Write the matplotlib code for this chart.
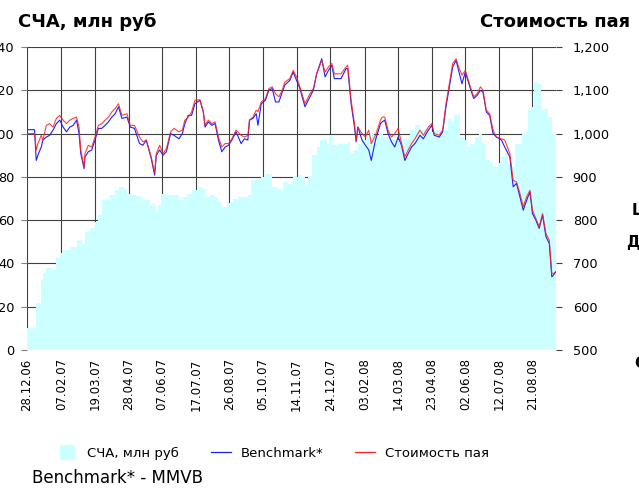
import numpy as np
import pandas as pd
import matplotlib
matplotlib.use("Agg")
import matplotlib.pyplot as plt
from matplotlib.lines import Line2D

# %% data (days since 28.12.06)
start = pd.Timestamp("2006-12-28")

line_days = [0, 9, 11, 13, 17, 19, 23, 27, 31, 35, 39, 43, 47, 51, 55, 59, 62, 64, 68, 69,
             73, 77, 81, 85, 89, 93, 97, 101, 105, 109, 113, 119, 123, 128, 134, 138, 142, 148, 152, 154,
             158, 162, 166, 171, 175, 181, 185, 188, 192, 196, 200, 206, 210, 212, 216, 220, 224, 228, 232, 236,
             240, 244, 249, 255, 259, 263, 265, 269, 273, 275, 279, 284, 288, 292, 296, 300, 304, 307, 313, 317,
             321, 325, 331, 337, 341, 345, 351, 355, 359, 363, 366, 374, 380, 382, 386, 390, 392, 394, 399, 403,
             407, 410, 415, 421, 423, 426, 430, 434, 438, 442, 446, 450, 454, 458, 462, 468, 472, 478, 482, 485,
             491, 495, 499, 503, 507, 511, 514, 518, 522, 528, 532, 536, 540, 543, 547, 551, 555, 559, 565, 569,
             575, 579, 583, 587, 591, 595, 599, 602, 606, 610, 614, 618, 622, 625, 627, 630]

unit_price = [1000, 1000, 962, 977, 996, 985, 1019, 1023, 1015, 1035, 1042, 1031, 1023, 1031, 1035, 1038, 1015, 962, 923, 954,
              973, 969, 992, 1019, 1023, 1031, 1038, 1050, 1058, 1069, 1042, 1046, 1019, 1019, 992, 981, 985, 946, 908, 954,
              973, 954, 965, 1004, 1012, 1004, 1008, 1031, 1038, 1050, 1077, 1078, 1050, 1019, 1031, 1023, 1027, 992, 969, 977,
              977, 988, 1008, 996, 992, 996, 1031, 1038, 1054, 1050, 1073, 1081, 1104, 1108, 1092, 1085, 1100, 1119, 1127, 1146,
              1131, 1108, 1069, 1092, 1104, 1138, 1169, 1142, 1154, 1162, 1138, 1138, 1154, 1158, 1077, 1023, 985, 1015, 1000, 992,
              1008, 977, 996, 1031, 1038, 1038, 1008, 992, 1000, 1012, 977, 946, 962, 977, 988, 1008, 996, 1015, 1023, 1000,
              996, 1008, 1069, 1115, 1162, 1173, 1154, 1135, 1146, 1108, 1085, 1092, 1108, 1100, 1054, 1046, 1008, 992, 988, 985,
              954, 892, 888, 862, 831, 854, 869, 823, 804, 785, 815, 769, 754, 677, 677, 681]

benchmark = [1009, 1009, 938, 950, 969, 985, 992, 996, 1008, 1023, 1031, 1015, 1004, 1015, 1019, 1031, 1000, 954, 919, 946,
             958, 962, 985, 1012, 1012, 1019, 1027, 1038, 1046, 1062, 1035, 1038, 1015, 1012, 977, 973, 985, 942, 904, 950,
             962, 950, 958, 1000, 996, 988, 1000, 1023, 1042, 1042, 1069, 1077, 1050, 1015, 1027, 1019, 1023, 985, 958, 969,
             973, 985, 1004, 977, 988, 985, 1031, 1035, 1046, 1019, 1069, 1077, 1100, 1104, 1073, 1073, 1096, 1112, 1123, 1142,
             1123, 1104, 1062, 1085, 1100, 1138, 1173, 1131, 1146, 1158, 1127, 1127, 1150, 1150, 1069, 1015, 981, 1015, 985, 973,
             962, 938, 985, 1023, 1027, 1031, 1000, 981, 969, 992, 973, 938, 954, 969, 977, 996, 988, 1008, 1019, 996,
             992, 1004, 1062, 1108, 1154, 1169, 1146, 1115, 1142, 1104, 1081, 1088, 1100, 1096, 1050, 1042, 1000, 992, 985, 969,
             946, 877, 885, 854, 823, 846, 865, 815, 800, 781, 812, 762, 746, 669, 673, 681]

nav_days = [0, 10, 11, 15, 17, 19, 23, 27, 31, 34, 39, 43, 51, 60, 65, 69, 75, 81, 85, 89,
            95, 99, 105, 109, 115, 119, 125, 130, 136, 142, 146, 150, 152, 156, 160, 166, 175, 181, 186, 190,
            196, 202, 208, 210, 212, 218, 224, 228, 232, 238, 242, 245, 251, 259, 263, 267, 273, 279, 284, 288,
            292, 298, 302, 305, 311, 317, 323, 327, 331, 335, 339, 345, 349, 353, 357, 361, 364, 370, 376, 382,
            385, 390, 394, 399, 405, 409, 413, 419, 424, 432, 440, 448, 456, 462, 468, 474, 480, 487, 493, 497,
            501, 505, 509, 513, 516, 520, 524, 528, 534, 538, 542, 545, 551, 555, 561, 565, 569, 573, 577, 581,
            585, 589, 593, 597, 600, 604, 608, 612, 616, 620, 625, 630]

nav = [10, 10, 21.5, 21.5, 32.3, 35.4, 37.7, 37.7, 36.9, 42.3, 44.6, 46.2, 47.7, 50.8, 49.2, 54.6, 56.2, 59.2, 62.3, 69.2,
       70.0, 71.5, 73.8, 75.4, 74.6, 72.3, 71.5, 71.1, 69.2, 69.2, 66.9, 67.7, 63.8, 66.9, 72.3, 71.5, 71.5, 69.2, 70.8, 72.3,
       73.8, 75.4, 75.4, 74.6, 70.8, 71.5, 70.8, 68.5, 66.2, 67.7, 68.5, 70.0, 70.8, 70.8, 71.5, 78.5, 79.2, 80.0, 81.5, 81.5,
       75.4, 74.6, 73.8, 77.7, 76.9, 80.0, 80.8, 80.0, 76.2, 80.0, 90.0, 93.8, 96.9, 97.7, 95.4, 99.2, 94.6, 95.1, 95.4, 96.2,
       90.8, 92.3, 95.4, 96.9, 98.5, 100.0, 98.5, 100.0, 98.5, 96.9, 96.9, 97.7, 101.5, 103.8, 101.5, 102.3, 100.8, 101.5, 100.0, 101.5,
       106.9, 105.4, 108.5, 109.2, 98.5, 96.9, 93.8, 95.4, 98.5, 100.0, 95.4, 87.7, 86.9, 84.6, 86.2, 89.2, 90.8, 86.2, 84.6, 95.4,
       95.4, 100.0, 100.8, 110.8, 112.3, 123.8, 123.1, 110.8, 111.5, 107.7, 100.0, 96.9]

tick_labels = ["28.12.06", "07.02.07", "19.03.07", "28.04.07", "07.06.07", "17.07.07", "26.08.07", "05.10.07",
               "14.11.07", "24.12.07", "03.02.08", "14.03.08", "23.04.08", "02.06.08", "12.07.08", "21.08.08"]
left_ticks = [0, 20, 40, 60, 80, 100, 120, 140]
right_ticks = [500, 600, 700, 800, 900, 1000, 1100, 1200]

# %%
line_dates = start + pd.to_timedelta(line_days, unit="D")
nav_dates = start + pd.to_timedelta(nav_days, unit="D")
tick_dates = pd.to_datetime(tick_labels, format="%d.%m.%y")

grid_c = "#404040"
cyan = "#ccffff"
blue = "#2020ff"
red = "#ff2020"

fig = plt.figure(figsize=(6.39, 4.93), dpi=100)
ax = fig.add_axes([27 / 639, 1 - 350 / 493, (556 - 27) / 639, 303 / 493])
ax.set_axisbelow(True)
ax.fill_between(nav_dates, nav, step="post", color=cyan, lw=0)
ax.set_ylim(0, 140)
ax.set_yticks(left_ticks)
ax.set_xlim(start, start + pd.Timedelta(days=630))
ax.set_xticks(tick_dates)
ax.set_xticklabels(tick_labels, rotation=90, fontsize=8.5)
ax.grid(True, color=grid_c, lw=0.8)
ax.tick_params(axis="x", length=0, pad=6)
ax.tick_params(axis="y", length=4, color="#808080", pad=5, labelsize=9.3)
for s in ax.spines.values():
    s.set_visible(False)

ax2 = ax.twinx()
ax2.plot(line_dates, benchmark, color=blue, lw=0.8)
ax2.plot(line_dates, unit_price, color=red, lw=0.8, alpha=0.85)
ax2.set_ylim(500, 1200)
ax2.set_yticks(right_ticks)
ax2.set_yticklabels(["{:,}".format(v) for v in right_ticks])
ax2.tick_params(axis="y", length=4, color=grid_c, pad=8, labelsize=9.3)
for s in ax2.spines.values():
    s.set_visible(False)

fig.text(18 / 639, 1 - 22 / 493, "СЧА, млн руб", fontsize=13, fontweight="bold", va="center", ha="left")
fig.text(630 / 639, 1 - 22 / 493, "Стоимость пая", fontsize=13, fontweight="bold", va="center", ha="right")

# bits of text cut off by the right edge
fig.text(632 / 639, 1 - 210 / 493, "Ц", fontsize=11, fontweight="bold", va="center")
fig.text(626 / 639, 1 - 243 / 493, "Д", fontsize=11, fontweight="bold", va="center")
fig.text(634 / 639, 1 - 363 / 493, "С", fontsize=11, fontweight="bold", va="center")

handles = [Line2D([], [], marker="s", ls="none", color=cyan, markersize=9.5),
           Line2D([], [], color=blue, lw=0.9),
           Line2D([], [], color=red, lw=0.9)]
fig.legend(handles, ["СЧА, млн руб", "Benchmark*", "Стоимость пая"], loc="center left",
           bbox_to_anchor=(57.5 / 639, 1 - 453 / 493), ncol=3, frameon=False, fontsize=9.5,
           handlelength=1.5, handletextpad=0.75, columnspacing=2.4, borderpad=0, borderaxespad=0)
fig.text(32 / 639, 1 - 478 / 493, "Benchmark* - MMVB", fontsize=12, va="center", ha="left")

fig.savefig("out.png", dpi=100)
